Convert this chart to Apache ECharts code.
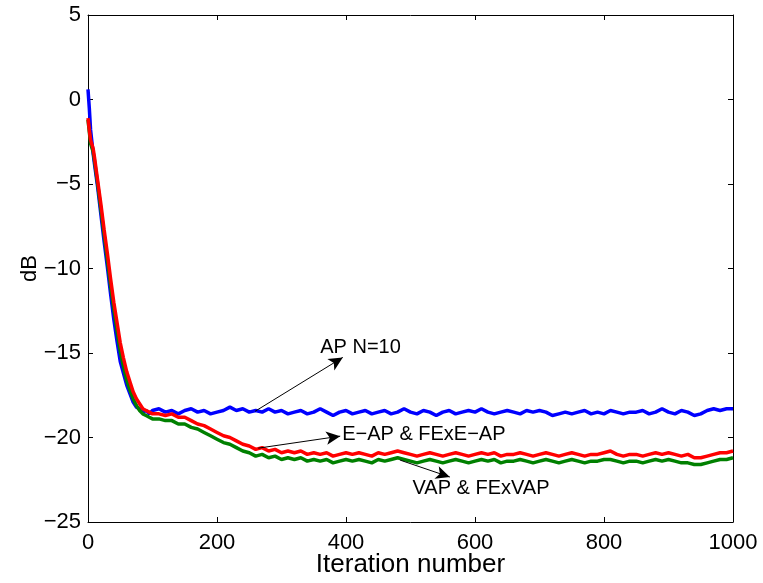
<!DOCTYPE html>
<html><head><meta charset="utf-8">
<script src="https://cdn.jsdelivr.net/npm/echarts@6/dist/echarts.min.js"></script>
<style>html,body{margin:0;padding:0;background:#fff}#c{width:763px;height:583px}</style>
</head><body><div id="c"></div>
<script>
const iters = [0,2,4,6,8,10,15,20,25,30,35,40,45,50,55,60,65,70,75,80,85,90,95,100,
110,120,130,140,150,160,170,180,190,200,210,220,230,240,250,260,270,280,290,300,
310,320,330,340,350,360,370,380,390,400,410,420,430,440,450,460,470,480,490,500,
510,520,530,540,550,560,570,580,590,600,610,620,630,640,650,660,670,680,690,700,
710,720,730,740,750,760,770,780,790,800,810,820,830,840,850,860,870,880,890,900,
910,920,930,940,950,960,970,980,990,1000];

const apN10 = [0.6,-0.5,-1.8,-2.5,-3.2,-3.8,-5.2,-6.8,-8.4,-9.9,-11.5,-13.0,-14.3,-15.5,-16.2,-16.9,-17.4,-17.9,-18.2,-18.3,-18.5,-18.4,-18.6,-18.4,
-18.3,-18.5,-18.4,-18.6,-18.4,-18.3,-18.5,-18.4,-18.6,-18.5,
-18.4,-18.2,-18.4,-18.3,-18.5,-18.4,-18.5,-18.3,-18.5,-18.4,
-18.6,-18.5,-18.4,-18.6,-18.5,-18.3,-18.5,-18.7,-18.5,-18.4,
-18.6,-18.5,-18.4,-18.6,-18.5,-18.4,-18.6,-18.5,-18.3,-18.5,
-18.6,-18.4,-18.5,-18.7,-18.5,-18.4,-18.6,-18.5,-18.4,-18.5,
-18.3,-18.5,-18.6,-18.5,-18.4,-18.5,-18.6,-18.4,-18.5,-18.4,
-18.5,-18.7,-18.6,-18.5,-18.6,-18.5,-18.4,-18.6,-18.5,-18.6,
-18.4,-18.5,-18.6,-18.5,-18.5,-18.4,-18.6,-18.5,-18.3,-18.5,
-18.6,-18.4,-18.5,-18.7,-18.6,-18.4,-18.3,-18.4,-18.3,-18.3];

const eAP = [-1.1,-1.8,-2.4,-2.3,-2.9,-3.4,-4.8,-6.2,-7.7,-9.1,-10.6,-12.0,-13.2,-14.4,-15.3,-16.1,-16.7,-17.3,-17.7,-18.0,-18.3,-18.4,-18.5,-18.6,
-18.6,-18.7,-18.6,-18.8,-18.8,-19.0,-19.2,-19.3,-19.5,-19.7,
-19.9,-20.0,-20.2,-20.4,-20.5,-20.7,-20.6,-20.8,-20.7,-20.9,
-20.8,-20.9,-20.8,-21.0,-20.9,-21.0,-20.9,-21.1,-21.0,-20.9,
-21.0,-20.9,-21.0,-21.1,-20.9,-21.0,-20.9,-20.8,-20.9,-21.0,
-21.1,-21.0,-20.9,-21.0,-21.1,-21.0,-20.9,-21.0,-21.1,-21.0,
-20.9,-21.0,-20.9,-21.1,-21.0,-21.0,-20.9,-21.0,-21.1,-21.0,
-20.9,-21.0,-21.1,-21.0,-20.9,-21.0,-21.1,-21.0,-21.0,-20.9,
-20.8,-21.0,-21.1,-21.0,-21.0,-21.1,-21.0,-20.9,-21.0,-20.9,
-21.0,-21.1,-21.0,-21.2,-21.2,-21.1,-21.0,-20.9,-20.9,-20.8];

const vAP = [-1.2,-1.9,-2.6,-2.5,-3.1,-3.6,-5.0,-6.5,-8.0,-9.5,-11.0,-12.4,-13.7,-14.9,-15.8,-16.6,-17.2,-17.7,-18.1,-18.4,-18.6,-18.7,-18.8,-18.9,
-18.9,-19.0,-19.0,-19.2,-19.2,-19.4,-19.5,-19.7,-19.9,-20.1,
-20.3,-20.4,-20.6,-20.8,-20.9,-21.1,-21.0,-21.2,-21.1,-21.3,
-21.2,-21.3,-21.2,-21.4,-21.3,-21.4,-21.3,-21.5,-21.4,-21.3,
-21.4,-21.3,-21.4,-21.5,-21.3,-21.4,-21.3,-21.2,-21.3,-21.4,
-21.5,-21.4,-21.3,-21.4,-21.5,-21.4,-21.3,-21.4,-21.5,-21.4,
-21.3,-21.4,-21.3,-21.5,-21.4,-21.4,-21.3,-21.4,-21.5,-21.4,
-21.3,-21.4,-21.5,-21.4,-21.3,-21.4,-21.5,-21.4,-21.4,-21.3,
-21.3,-21.4,-21.5,-21.4,-21.4,-21.5,-21.4,-21.3,-21.4,-21.3,
-21.4,-21.5,-21.5,-21.6,-21.6,-21.5,-21.4,-21.3,-21.3,-21.2];

const xTicks = [0,200,400,600,800,1000];
const yTicks = [-25,-20,-15,-10,-5,0,5];

// annotation: [text, arrow start (iter, dB), arrow end (iter, dB), text anchor (iter, dB)]
const notes = [
  ['AP N=10', [259,-18.45], [395,-15.26], [360,-14.65]],
  ['E\u2212AP & FExE\u2212AP', [264,-20.63], [391,-19.92], [394,-19.8]],
  ['VAP & FExVAP', [484,-21.34], [561,-22.34], [503,-23.0]]
];

const FONT = '"Liberation Sans", Arial, Helvetica, sans-serif';
const zip = (a) => iters.map((x,i)=>[x,a[i]]);
const fmt = (v) => String(v).replace('-', '\u2212');

const chart = echarts.init(document.getElementById('c'));
const axisCommon = {
  axisLine:{show:true,onZero:false,lineStyle:{color:'#000',width:1}},
  axisTick:{show:true,inside:true,length:5,lineStyle:{color:'#000'}},
  splitLine:{show:false}
};
chart.setOption({
  animation:false,
  backgroundColor:'#fff',
  grid:{left:88,right:30,top:15,bottom:61,containLabel:false,outerBoundsMode:'none'},
  xAxis:[
    Object.assign({type:'value',min:0,max:1000,interval:200,position:'bottom',
      name:'Iteration number',nameLocation:'middle',nameGap:30,nameMoveOverlap:false,
      nameTextStyle:{fontFamily:FONT,fontSize:26,color:'#000'},
      axisLabel:{fontFamily:FONT,fontSize:22,color:'#000',margin:10,formatter:fmt}},axisCommon),
    Object.assign({type:'value',min:0,max:1000,interval:200,position:'top',axisLabel:{show:false}},axisCommon)
  ],
  yAxis:[
    Object.assign({type:'value',min:-25,max:5,interval:5,position:'left',
      name:'dB',nameLocation:'middle',nameGap:47,nameRotate:90,nameMoveOverlap:false,
      nameTextStyle:{fontFamily:FONT,fontSize:22,color:'#000'},
      axisLabel:{fontFamily:FONT,fontSize:22,color:'#000',margin:7,formatter:fmt}},axisCommon),
    Object.assign({type:'value',min:-25,max:5,interval:5,position:'right',axisLabel:{show:false}},axisCommon)
  ],
  series:[
    {type:'line',name:'AP N=10',data:zip(apN10),showSymbol:false,lineStyle:{color:'#0000ff',width:3.5},itemStyle:{color:'#0000ff'},z:2},
    {type:'line',name:'VAP & FExVAP',data:zip(vAP),showSymbol:false,lineStyle:{color:'#008000',width:3.5},itemStyle:{color:'#008000'},z:3},
    {type:'line',name:'E-AP & FExE-AP',data:zip(eAP),showSymbol:false,lineStyle:{color:'#ff0000',width:3.5},itemStyle:{color:'#ff0000'},z:4,
      markLine:{silent:true,symbol:['none','arrow'],symbolSize:[10,14],animation:false,
        lineStyle:{color:'#000',width:1,type:'solid'},label:{show:false},
        data:notes.map(n=>[{coord:n[1]},{coord:n[2]}])}}
  ]
});
const gfx = notes.map(n=>{
  const p = chart.convertToPixel({xAxisIndex:0,yAxisIndex:0}, n[3]);
  return {type:'text',x:p[0],y:p[1],z:100,
    style:{text:n[0],font:'20px '+FONT,fill:'#000',verticalAlign:'middle',textVerticalAlign:'middle'}};
});
chart.setOption({graphic:gfx});
</script></body></html>
